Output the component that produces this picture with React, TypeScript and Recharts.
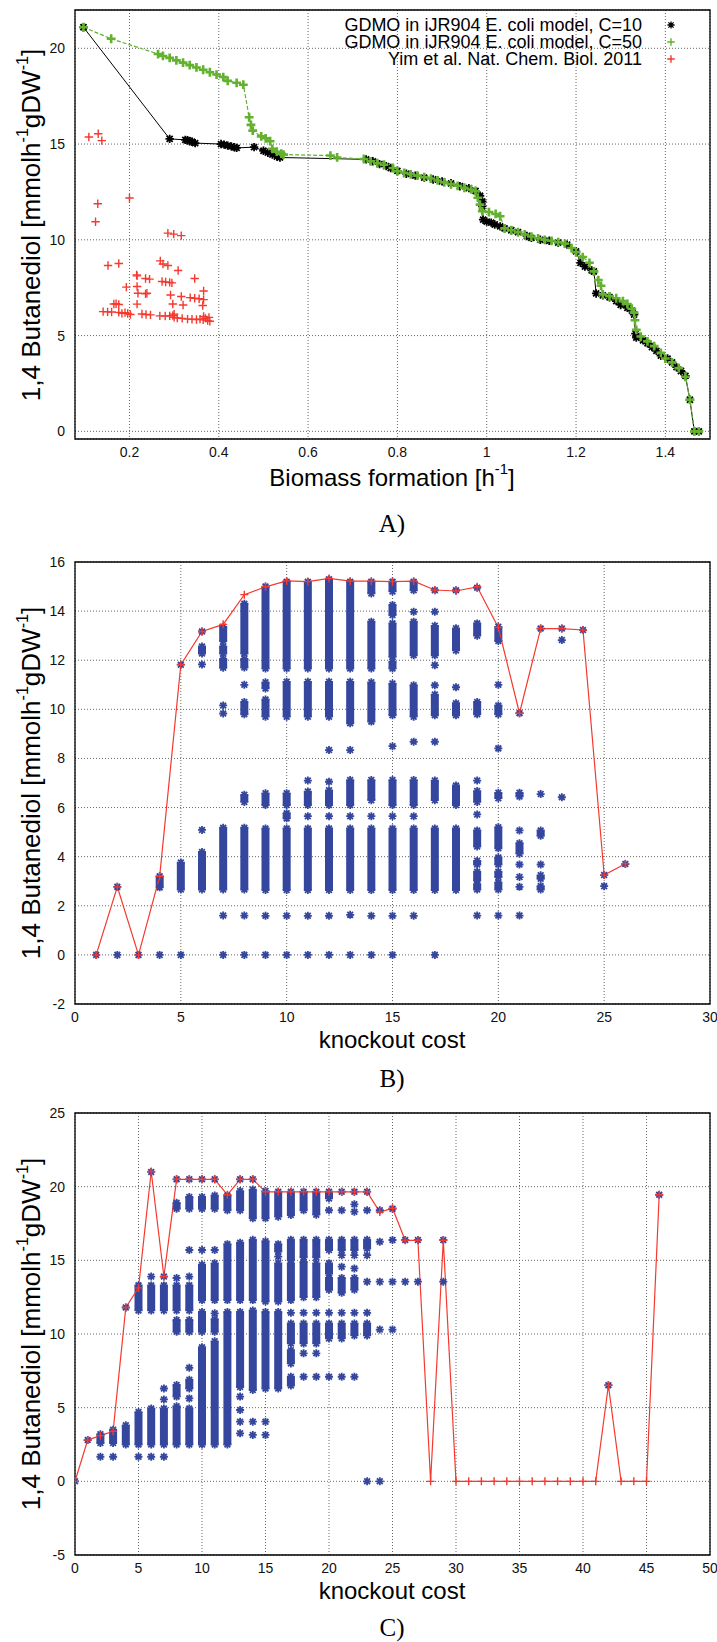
import React from "react";
import {
  ComposedChart,
  Line,
  Scatter,
  XAxis,
  YAxis,
  CartesianGrid,
  ReferenceArea,
  ErrorBar,
} from "recharts";

const BLUE = "#34469e";
const RED = "#f5392f";
const GREEN = "#63b22f";
const GRID = "#666";
const FONT = "'Liberation Sans', Arial, sans-serif";

type Pt = [number, number];
type Band = [number, number, number]; // cost, low, high

// ---- panel A: biomass vs 1,4-BDO ----
const A_X_TICKS = [0.2, 0.4, 0.6, 0.8, 1, 1.2, 1.4];
const A_Y_TICKS = [0, 5, 10, 15, 20];

const A_C10: Pt[] = [
  [0.097, 21.1], [0.29, 15.27], [0.325, 15.22], [0.33, 15.2], [0.335, 15.15], [0.34, 15.12],
  [0.347, 15.05], [0.405, 15.0], [0.412, 14.97], [0.42, 14.92], [0.428, 14.88], [0.435, 14.83],
  [0.44, 14.8], [0.479, 14.84], [0.5, 14.65], [0.51, 14.55], [0.52, 14.45], [0.53, 14.35],
  [0.537, 14.3], [0.73, 14.2], [0.745, 14.1], [0.76, 13.95], [0.775, 13.85], [0.785, 13.75],
  [0.8, 13.6], [0.82, 13.45], [0.84, 13.35], [0.86, 13.25], [0.88, 13.15], [0.9, 13.05],
  [0.92, 12.95], [0.94, 12.8], [0.96, 12.7], [0.975, 12.55], [0.985, 12.3], [0.99, 12.0],
  [0.99, 11.75], [0.992, 11.05], [1.0, 10.95], [1.01, 10.9], [1.018, 10.8], [1.03, 10.7],
  [1.04, 10.6], [1.055, 10.5], [1.07, 10.4], [1.09, 10.2], [1.1, 10.1], [1.12, 10.0],
  [1.14, 9.95], [1.16, 9.85], [1.18, 9.75], [1.2, 9.4], [1.21, 8.8], [1.22, 8.6],
  [1.235, 8.4], [1.24, 8.35], [1.245, 7.2], [1.26, 7.1], [1.275, 7.0], [1.29, 6.8],
  [1.3, 6.6], [1.315, 6.45], [1.325, 6.3], [1.33, 6.1], [1.333, 5.1], [1.335, 4.9],
  [1.35, 4.75], [1.36, 4.6], [1.37, 4.4], [1.38, 4.2], [1.39, 3.95], [1.405, 3.8],
  [1.415, 3.6], [1.425, 3.35], [1.435, 3.15], [1.445, 2.9], [1.455, 1.65], [1.465, 0],
  [1.475, 0],
];

const A_C50: Pt[] = [
  [0.097, 21.1], [0.159, 20.5], [0.264, 19.7], [0.275, 19.6], [0.29, 19.5], [0.305, 19.37],
  [0.32, 19.25], [0.335, 19.12], [0.35, 19.0], [0.365, 18.88], [0.38, 18.75], [0.395, 18.63],
  [0.41, 18.5], [0.42, 18.3], [0.44, 18.2], [0.455, 18.1], [0.468, 16.4], [0.472, 16.0],
  [0.476, 15.7], [0.495, 15.4], [0.505, 15.3], [0.515, 15.15], [0.52, 14.75], [0.53, 14.6],
  [0.54, 14.5], [0.545, 14.45], [0.65, 14.4], [0.665, 14.3], [0.725, 14.22], [0.74, 14.1],
  [0.755, 14.0], [0.77, 13.92], [0.79, 13.75], [0.8, 13.58], [0.815, 13.5], [0.83, 13.42],
  [0.845, 13.35], [0.86, 13.27], [0.875, 13.2], [0.89, 13.1], [0.905, 13.0], [0.92, 12.9],
  [0.935, 12.82], [0.95, 12.72], [0.965, 12.63], [0.975, 12.54], [0.98, 12.2], [0.985, 11.84],
  [0.99, 11.5], [1.005, 11.45], [1.02, 11.35], [1.03, 11.23], [1.04, 10.6], [1.055, 10.5],
  [1.07, 10.4], [1.085, 10.28], [1.1, 10.17], [1.115, 10.08], [1.13, 10.0], [1.145, 9.95],
  [1.16, 9.88], [1.175, 9.8], [1.19, 9.57], [1.2, 9.35], [1.215, 9.1], [1.23, 8.8],
  [1.24, 8.35], [1.25, 7.9], [1.256, 7.6], [1.26, 7.15], [1.275, 7.05], [1.29, 6.95],
  [1.305, 6.8], [1.315, 6.65], [1.325, 6.4], [1.33, 6.2], [1.332, 5.8], [1.335, 5.3],
  [1.345, 4.95], [1.36, 4.7], [1.375, 4.45], [1.39, 4.1], [1.4, 3.8], [1.415, 3.6],
  [1.43, 3.3], [1.445, 2.85], [1.455, 1.65], [1.465, 0], [1.475, 0],
];

const A_YIM: Pt[] = [
  [0.109, 15.37], [0.13, 15.54], [0.138, 15.18], [0.129, 11.88], [0.124, 10.94], [0.2, 12.18],
  [0.286, 10.35], [0.299, 10.3], [0.316, 10.22], [0.152, 8.66], [0.176, 8.76], [0.269, 8.9],
  [0.275, 8.74], [0.286, 8.66], [0.309, 8.4], [0.216, 8.17], [0.217, 8.12], [0.236, 7.98],
  [0.245, 7.95], [0.346, 7.98], [0.273, 7.82], [0.281, 7.8], [0.29, 7.78], [0.295, 7.75],
  [0.193, 7.53], [0.217, 7.56], [0.219, 7.21], [0.236, 7.18], [0.239, 7.21], [0.292, 7.12],
  [0.316, 7.04], [0.336, 6.98], [0.346, 6.95], [0.356, 6.92], [0.366, 6.88], [0.366, 7.33],
  [0.297, 6.65], [0.32, 6.6], [0.364, 6.57], [0.217, 6.64], [0.165, 6.65], [0.17, 6.66],
  [0.176, 6.62], [0.141, 6.25], [0.151, 6.24], [0.16, 6.23], [0.176, 6.21], [0.183, 6.16],
  [0.19, 6.2], [0.196, 6.15], [0.202, 6.1], [0.228, 6.13], [0.237, 6.1], [0.247, 6.08],
  [0.268, 6.03], [0.28, 6.02], [0.29, 6.03], [0.297, 6.05], [0.3, 5.95], [0.307, 5.92],
  [0.3, 6.12], [0.318, 5.9], [0.33, 5.86], [0.34, 5.85], [0.35, 5.84], [0.358, 5.86],
  [0.365, 5.82], [0.37, 5.9], [0.375, 5.78], [0.378, 5.95], [0.38, 5.75], [0.366, 6.0],
];

// ---- panel B: knockout cost, C=10 ----
const B_X_TICKS = [0, 5, 10, 15, 20, 25, 30];
const B_Y_TICKS = [-2, 0, 2, 4, 6, 8, 10, 12, 14, 16];
const B_COST = [1, 2, 3, 4, 5, 6, 7, 8, 9, 10, 11, 12, 13, 14, 15, 16, 17, 18, 19, 20, 21, 22, 23, 24, 25, 26];
const B_BEST = [
  0, 2.77, 0, 3.2, 11.82, 13.17, 13.46, 14.67, 14.99, 15.23, 15.2, 15.33, 15.22,
  15.22, 15.2, 15.22, 14.86, 14.82, 14.99, 13.33, 9.84, 13.29, 13.29, 13.23, 3.25, 3.71,
];
const B_BANDS: Band[] = [
  [4, 2.75, 3.2], [5, 2.66, 3.76],
  [6, 2.66, 4.19], [6, 12.27, 12.56],
  [7, 2.66, 5.18], [7, 11.69, 12.05], [7, 12.27, 12.56], [7, 12.78, 13.36],
  [8, 2.66, 5.18], [8, 6.23, 6.52], [8, 9.8, 10.3], [8, 11.7, 12.05], [8, 12.27, 14.3],
  [9, 2.64, 5.15], [9, 6.1, 6.58], [9, 9.7, 10.4], [9, 10.85, 11.1], [9, 11.66, 15.0],
  [10, 2.64, 5.15], [10, 5.56, 5.77], [10, 6.1, 6.58], [10, 9.7, 11.12], [10, 11.66, 15.2],
  [11, 2.64, 5.15], [11, 6.1, 6.65], [11, 9.7, 11.12], [11, 11.66, 15.2],
  [12, 2.64, 5.15], [12, 6.1, 6.7], [12, 9.7, 11.12], [12, 11.66, 15.3],
  [13, 2.64, 5.15], [13, 6.1, 7.12], [13, 9.43, 11.12], [13, 11.66, 15.2],
  [14, 2.64, 5.15], [14, 6.3, 7.12], [14, 9.5, 11.1], [14, 11.66, 13.57], [14, 14.72, 15.2],
  [15, 2.64, 5.15], [15, 6.1, 7.12], [15, 9.76, 11.05], [15, 11.66, 11.94], [15, 12.14, 13.5],
  [15, 13.84, 14.25], [15, 14.8, 15.2],
  [16, 2.64, 5.15], [16, 6.1, 7.12], [16, 9.7, 10.98], [16, 12.2, 13.57], [16, 14.85, 15.2],
  [17, 2.64, 5.15], [17, 6.3, 7.1], [17, 9.76, 10.6], [17, 12.2, 13.4],
  [18, 2.64, 5.15], [18, 6.1, 6.9], [18, 9.76, 10.25], [18, 12.4, 13.3],
  [19, 2.66, 2.88], [19, 3.03, 3.39], [19, 3.68, 3.83], [19, 4.41, 5.07], [19, 6.23, 6.67],
  [19, 9.8, 10.3], [19, 13.0, 13.5],
  [20, 2.66, 2.95], [20, 3.17, 3.39], [20, 3.68, 3.97], [20, 4.34, 5.2], [20, 6.38, 6.6],
  [20, 9.8, 10.16], [20, 12.78, 13.36],
  [21, 4.12, 4.55], [21, 6.45, 6.6],
  [22, 2.66, 2.8], [22, 3.1, 3.24], [22, 4.85, 5.07],
];
const B_POINTS: Pt[] = [
  [1, 0], [2, 0], [2, 2.77], [3, 0], [4, 0], [5, 0], [5, 11.82], [6, 5.09], [6, 11.83], [6, 13.17],
  [7, 0], [7, 1.6], [7, 9.83], [7, 10.16], [8, 0], [8, 1.6], [8, 11.0],
  [9, 0], [9, 1.59], [10, 0], [10, 1.59], [11, 0], [11, 1.59], [11, 5.65], [11, 7.1],
  [12, 0], [12, 1.59], [12, 5.65], [12, 7.05], [12, 8.34], [13, 0], [13, 1.63], [13, 5.65], [13, 8.34],
  [14, 0], [14, 1.59], [14, 5.65], [15, 0], [15, 1.59], [15, 5.65], [15, 8.5],
  [16, 1.59], [16, 5.65], [16, 8.68], [16, 13.97], [17, 0], [17, 8.68], [17, 10.98], [17, 11.8],
  [17, 13.97], [17, 14.85], [18, 10.9], [18, 14.85], [19, 1.6], [19, 5.72], [19, 7.1], [19, 14.95],
  [20, 1.6], [20, 8.41], [20, 11.0], [21, 1.6], [21, 2.77], [21, 3.17], [21, 3.68], [21, 5.07],
  [21, 9.84], [22, 3.68], [22, 6.55], [22, 13.29], [23, 6.42], [23, 12.82], [23, 13.29],
  [24, 13.23], [25, 2.8], [25, 3.25], [26, 3.7],
];

// ---- panel C: knockout cost, C=50 ----
const C_X_TICKS = [0, 5, 10, 15, 20, 25, 30, 35, 40, 45, 50];
const C_Y_TICKS = [-5, 0, 5, 10, 15, 20, 25];
const C_COST = [
  0, 1, 2, 3, 4, 5, 6, 7, 8, 9, 10, 11, 12, 13, 14, 15, 16, 17, 18, 19, 20, 21, 22, 23,
  24, 25, 26, 27, 28, 29, 30, 31, 32, 33, 34, 35, 36, 37, 38, 39, 40, 41, 42, 43, 44, 45, 46,
];
const C_BEST = [
  0, 2.8, 3.1, 3.4, 11.8, 13.13, 21.03, 13.9, 20.5, 20.5, 20.5, 20.5, 19.45, 20.5, 20.5,
  19.65, 19.65, 19.65, 19.65, 19.65, 19.65, 19.65, 19.65, 19.65, 18.28, 18.53, 16.36, 16.36,
  0, 16.36, 0, 0, 0, 0, 0, 0, 0, 0, 0, 0, 0, 0, 6.52, 0, 0, 0, 19.45,
];
const C_BANDS: Band[] = [
  [2, 2.6, 3.2], [3, 2.6, 3.5], [4, 2.5, 3.8],
  [5, 2.5, 4.7], [5, 11.6, 13.3], [6, 2.5, 4.95], [6, 11.6, 13.3],
  [7, 2.5, 4.95], [7, 11.6, 13.3],
  [8, 2.5, 5.1], [8, 5.75, 6.54], [8, 10.15, 10.95], [8, 11.6, 13.3], [8, 18.5, 18.9],
  [9, 2.5, 4.95], [9, 6.3, 6.9], [9, 10.15, 10.95], [9, 11.6, 13.3], [9, 18.5, 19.3],
  [10, 2.5, 9.1], [10, 10.15, 11.5], [10, 12.3, 14.7], [10, 18.5, 19.3],
  [11, 2.5, 9.5], [11, 10.15, 11.0], [11, 12.3, 14.8], [11, 18.5, 19.4],
  [12, 2.5, 11.5], [12, 12.3, 16.1], [12, 18.4, 19.4],
  [13, 6.4, 11.5], [13, 12.3, 16.2], [13, 18.4, 19.7],
  [14, 6.2, 11.6], [14, 12.3, 16.4], [14, 17.85, 19.8],
  [15, 6.3, 11.5], [15, 12.2, 16.3], [15, 17.85, 19.7],
  [16, 6.3, 11.5], [16, 12.2, 14.8], [16, 15.6, 16.1], [16, 17.96, 19.66],
  [17, 6.5, 7.1], [17, 8.0, 8.9], [17, 9.36, 10.72], [17, 12.3, 14.8], [17, 15.0, 16.4], [17, 18.07, 19.66],
  [18, 9.36, 10.72], [18, 12.5, 14.9], [18, 15.2, 16.4], [18, 18.4, 19.66],
  [19, 9.36, 10.72], [19, 12.5, 14.8], [19, 15.2, 16.4], [19, 18.1, 19.66],
  [20, 9.7, 10.72], [20, 13.0, 13.8], [20, 14.1, 14.8], [20, 15.7, 16.4], [20, 19.2, 19.66],
  [21, 9.7, 10.72], [21, 12.8, 13.8], [21, 15.7, 16.4],
  [22, 9.9, 10.72], [22, 13.0, 13.8], [22, 15.7, 16.4],
  [23, 9.9, 10.72], [23, 15.8, 16.4],
];
const C_POINTS: Pt[] = [
  [0, 0], [1, 2.8], [2, 1.67], [3, 1.67], [4, 11.8], [5, 1.67], [6, 1.67], [6, 13.9], [6, 21.0],
  [7, 1.67], [7, 5.56], [7, 6.3], [7, 13.9], [8, 13.8], [8, 20.5], [9, 5.63], [9, 7.71], [9, 13.9],
  [9, 15.7], [9, 20.5], [10, 15.7], [10, 20.5], [11, 11.4], [11, 15.7], [11, 20.5],
  [13, 3.26], [13, 4.05], [13, 4.84], [13, 5.75], [13, 20.5], [14, 3.15], [14, 4.05], [14, 20.5],
  [15, 3.15], [15, 4.05], [16, 15.25], [17, 11.44], [18, 7.1], [18, 8.69], [18, 11.44],
  [19, 7.1], [19, 8.69], [19, 11.44], [20, 7.1], [20, 11.44], [20, 18.4],
  [21, 7.1], [21, 11.44], [21, 14.57], [21, 15.35], [21, 18.4], [21, 19.66],
  [22, 7.1], [22, 11.44], [22, 14.45], [22, 15.35], [22, 18.3], [22, 18.8], [22, 19.66],
  [23, 0], [23, 11.44], [23, 13.55], [23, 15.35], [23, 18.4], [23, 19.66],
  [24, 0], [24, 10.3], [24, 13.55], [24, 16.26], [24, 18.4], [25, 10.3], [25, 13.55], [25, 16.38],
  [25, 18.5], [26, 13.55], [26, 16.38], [27, 13.55], [27, 16.38], [29, 13.55], [29, 16.38],
  [42, 6.52], [46, 19.45],
];

// ---- markers ----
function starD(cx: number, cy: number, r: number) {
  const d = r * 0.72;
  return `M${cx - r},${cy}H${cx + r}M${cx},${cy - r}V${cy + r}M${cx - d},${cy - d}L${cx + d},${cy + d}M${cx - d},${cy + d}L${cx + d},${cy - d}`;
}
function plusD(cx: number, cy: number, r: number) {
  return `M${cx - r},${cy}H${cx + r}M${cx},${cy - r}V${cy + r}`;
}
const marker = (kind: "star" | "plus", color: string, r: number, w: number) =>
  (props: any) => {
    const { cx, cy, index } = props;
    if (cx == null || cy == null) return <g key={index} />;
    const d = kind === "star" ? starD(cx, cy, r) : plusD(cx, cy, r);
    return <path key={index} d={d} stroke={color} strokeWidth={w} fill="none" />;
  };
const hidden = () => <g />;

const toPts = (pts: Pt[]) => pts.map(([x, y]) => ({ x, y }));
const toLine = (xs: number[], ys: number[]) => xs.map((x, i) => ({ x, y: ys[i] }));
const toBands = (b: Band[]) => b.map(([x, lo, hi]) => ({ x, y: lo, err: [0, hi - lo] }));
const bandEnds = (b: Band[]) => b.flatMap(([x, lo, hi]) => [{ x, y: lo }, { x, y: hi }]);

const tick = { fontSize: 14, fill: "#111", fontFamily: FONT };

function PanelA() {
  const xd: [number, number] = [0.078, 1.5];
  const yd: [number, number] = [-0.4, 22];
  return (
    <ComposedChart width={717} height={460} margin={{ top: 10, right: 7, bottom: 0, left: 0 }}>
      <CartesianGrid stroke={GRID} strokeDasharray="1 2" />
      <XAxis type="number" dataKey="x" domain={xd} ticks={A_X_TICKS} allowDataOverflow
        height={21} tick={tick} tickLine={false} axisLine={false} interval={0} />
      <YAxis type="number" dataKey="y" domain={yd} ticks={A_Y_TICKS} allowDataOverflow
        width={75} tick={tick} tickLine={false} axisLine={false} tickMargin={4} interval={0} />
      <Line data={toPts(A_C10)} dataKey="y" stroke="#000" strokeWidth={1} isAnimationActive={false}
        dot={marker("star", "#000", 4.2, 1.8)} activeDot={false} />
      <Line data={toPts(A_C50)} dataKey="y" stroke={GREEN} strokeWidth={1.2} strokeDasharray="4 2"
        isAnimationActive={false} dot={marker("plus", GREEN, 4.4, 2.6)} activeDot={false} />
      <Scatter data={toPts(A_YIM)} dataKey="y" isAnimationActive={false}
        shape={marker("plus", RED, 4.2, 1.4)} />
      <ReferenceArea x1={xd[0]} x2={xd[1]} y1={yd[0]} y2={yd[1]} fill="none" stroke="#000" strokeWidth={1.3} />
    </ComposedChart>
  );
}

function KnockoutPanel(props: {
  xd: [number, number]; yd: [number, number]; xt: number[]; yt: number[];
  bands: Band[]; points: Pt[]; cost: number[]; best: number[]; height: number; top: number;
}) {
  const { xd, yd, xt, yt, bands, points, cost, best, height, top } = props;
  return (
    <ComposedChart width={717} height={height} margin={{ top, right: 7, bottom: 0, left: 0 }}>
      <CartesianGrid stroke={GRID} strokeDasharray="1 2" />
      <XAxis type="number" dataKey="x" domain={xd} ticks={xt} allowDataOverflow
        height={21} tick={tick} tickLine={false} axisLine={false} interval={0} />
      <YAxis type="number" dataKey="y" domain={yd} ticks={yt} allowDataOverflow
        width={75} tick={tick} tickLine={false} axisLine={false} tickMargin={4} interval={0} />
      <Scatter data={toBands(bands)} dataKey="y" isAnimationActive={false} shape={hidden}>
        <ErrorBar dataKey="err" direction="y" width={0} stroke={BLUE} strokeWidth={8}
          isAnimationActive={false} />
      </Scatter>
      <Scatter data={bandEnds(bands)} dataKey="y" isAnimationActive={false}
        shape={marker("star", BLUE, 4, 1.8)} />
      <Scatter data={toPts(points)} dataKey="y" isAnimationActive={false}
        shape={marker("star", BLUE, 4, 1.8)} />
      <Line data={toLine(cost, best)} dataKey="y" stroke={RED} strokeWidth={1.2} isAnimationActive={false}
        dot={marker("plus", RED, 4, 1.4)} activeDot={false} />
      <ReferenceArea x1={xd[0]} x2={xd[1]} y1={yd[0]} y2={yd[1]} fill="none" stroke="#000" strokeWidth={1.3} />
    </ComposedChart>
  );
}

const abs = (left: number, top: number, extra: React.CSSProperties = {}): React.CSSProperties => ({
  position: "absolute",
  left,
  top,
  transform: "translate(-50%, -50%)",
  whiteSpace: "nowrap",
  fontFamily: FONT,
  color: "#000",
  lineHeight: 1,
  ...extra,
});

const sup: React.CSSProperties = { fontSize: "0.62em", verticalAlign: "0.75em" };

function YTitle({ cy }: { cy: number }) {
  return (
    <div style={abs(29, cy, { fontSize: 26, transform: "translate(-50%, -50%) rotate(-90deg)" })}>
      1,4 Butanediol [mmolh<span style={sup}>-1</span>gDW<span style={sup}>-1</span>]
    </div>
  );
}

function PanelTag({ text, cy }: { text: string; cy: number }) {
  return (
    <div style={abs(392, cy, { fontSize: 25, fontFamily: "'Liberation Serif', 'DejaVu Serif', serif" })}>
      {text}
    </div>
  );
}

const LEGEND = [
  { label: "GDMO in iJR904 E. coli model, C=10", color: "#000", kind: "star" as const, y: 25 },
  { label: "GDMO in iJR904 E. coli model, C=50", color: GREEN, kind: "plus" as const, y: 42 },
  { label: "Yim et al. Nat. Chem. Biol. 2011", color: RED, kind: "plus" as const, y: 59 },
];

export default function App() {
  return (
    <div style={{ position: "absolute", left: 0, top: 0, width: 717, height: 1642, background: "#fff" }}>
      <div style={{ position: "absolute", left: 0, top: 0 }}>
        <PanelA />
      </div>
      <div style={{ position: "absolute", left: 0, top: 540 }}>
        <KnockoutPanel xd={[0, 30]} yd={[-2, 16]} xt={B_X_TICKS} yt={B_Y_TICKS} bands={B_BANDS}
          points={B_POINTS} cost={B_COST} best={B_BEST} height={485} top={22} />
      </div>
      <div style={{ position: "absolute", left: 0, top: 1090 }}>
        <KnockoutPanel xd={[0, 50]} yd={[-5, 25]} xt={C_X_TICKS} yt={C_Y_TICKS} bands={C_BANDS}
          points={C_POINTS} cost={C_COST} best={C_BEST} height={486} top={23} />
      </div>

      {LEGEND.map((l) => (
        <React.Fragment key={l.label}>
          <div style={{ ...abs(0, l.y, { fontSize: 18, transform: "translate(0, -50%)" }), left: undefined, right: 717 - 642 }}>
            {l.label}
          </div>
          <svg style={{ position: "absolute", left: 664, top: l.y - 7 }} width={14} height={14}>
            <path d={l.kind === "star" ? starD(7, 7, 3.6) : plusD(7, 7, 3.8)} stroke={l.color}
              strokeWidth={l.kind === "star" ? 1.3 : 1.4} fill="none" />
          </svg>
        </React.Fragment>
      ))}

      <YTitle cy={225} />
      <div style={abs(392, 476, { fontSize: 24 })}>
        Biomass formation [h<span style={sup}>-1</span>]
      </div>
      <PanelTag text="A)" cy={523} />

      <YTitle cy={783} />
      <div style={abs(392, 1040, { fontSize: 24 })}>knockout cost</div>
      <PanelTag text="B)" cy={1078} />

      <YTitle cy={1334} />
      <div style={abs(392, 1591, { fontSize: 24 })}>knockout cost</div>
      <PanelTag text="C)" cy={1627} />
    </div>
  );
}
